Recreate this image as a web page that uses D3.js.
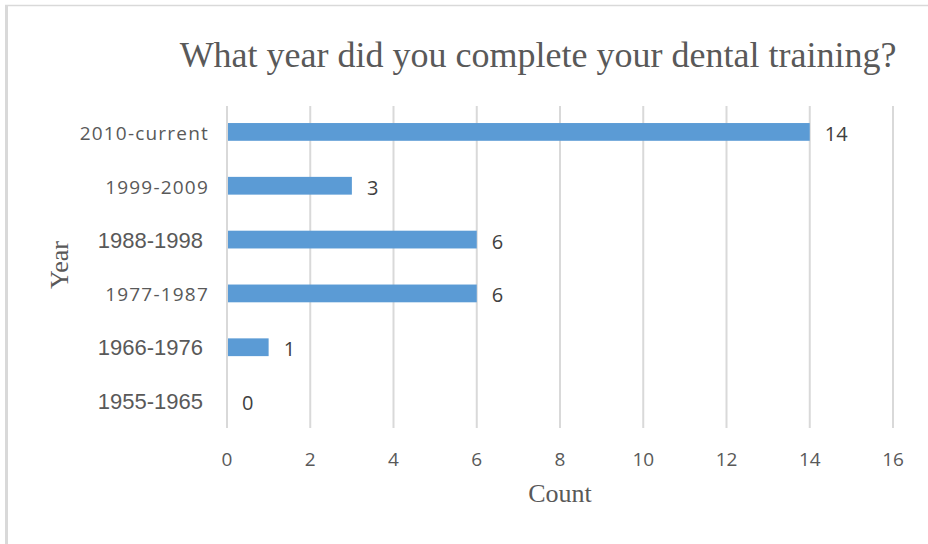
<!DOCTYPE html>
<html><head><meta charset="utf-8">
<script src="https://cdn.jsdelivr.net/npm/d3@7"></script>
<style>body{margin:0;background:#fff}</style>
</head><body>
<script>
const categories = ["2010-current","1999-2009","1988-1998","1977-1987","1966-1976","1955-1965"];
const counts = [14,3,6,6,1,0];
const xTicks = [0,2,4,6,8,10,12,14,16];
// label style per category as seen in the picture (mixed fonts)
const labelStyle = ["light","light","bold","light","bold","bold"];

const W=928,H=544;
const svg=d3.select("body").append("svg").attr("width",W).attr("height",H);
svg.append("rect").attr("width",W).attr("height",H).attr("fill","#fff");
// chart border (top + left visible)
svg.append("line").attr("x1",5).attr("x2",W).attr("y1",5.5).attr("y2",5.5).attr("stroke","#d9d9d9").attr("stroke-width",1.5);
svg.append("line").attr("x1",6.5).attr("x2",6.5).attr("y1",5).attr("y2",H).attr("stroke","#d9d9d9").attr("stroke-width",3);

const x=d3.scaleLinear().domain([0,16]).range([227,893]);
const y=d3.scaleBand().domain(categories).range([105,428]).paddingInner(0.67).paddingOuter(0.335);

const grid=svg.append("g");
grid.selectAll("line").data(xTicks).join("line")
 .attr("x1",d=>x(d)).attr("x2",d=>x(d)).attr("y1",106).attr("y2",428)
 .attr("stroke","#d9d9d9").attr("stroke-width",2);

svg.append("g").selectAll("rect").data(categories).join("rect")
 .attr("x",x(0)+1).attr("y",d=>y(d))
 .attr("width",(d,i)=>Math.max(0,x(counts[i])-x(0)-1)).attr("height",y.bandwidth())
 .attr("fill","#5b9bd5");

// value labels
svg.append("g").selectAll("text").data(categories).join("text")
 .attr("x",(d,i)=>x(counts[i])+15).attr("y",d=>y(d)+y.bandwidth()/2+9)
 .attr("font-family","Open Sans").attr("font-size",20).attr("fill","#404040")
 .text((d,i)=>counts[i]);

// x tick labels
svg.append("g").selectAll("text").data(xTicks).join("text")
 .attr("x",d=>x(d)).attr("y",466).attr("text-anchor","middle")
 .attr("font-family","Open Sans").attr("font-size",19).attr("fill","#595959")
 .text(d=>d);

// category labels
svg.append("g").selectAll("text").data(categories).join("text")
 .attr("x",(d,i)=>labelStyle[i]==="light"?209:203)
 .attr("y",(d,i)=>y(d)+y.bandwidth()/2+8)
 .attr("text-anchor","end")
 .attr("font-family",(d,i)=>labelStyle[i]==="light"?"Open Sans":"Liberation Sans")
 .attr("font-size",(d,i)=>labelStyle[i]==="light"?19:22)
 .attr("letter-spacing",(d,i)=>labelStyle[i]==="light"?1.2:0)
 .attr("fill","#595959")
 .text(d=>d);

svg.append("text").attr("x",538).attr("y",67).attr("text-anchor","middle")
 .attr("font-family","Liberation Serif").attr("font-size",36).attr("fill","#595959")
 .text("What year did you complete your dental training?");
svg.append("text").attr("x",560).attr("y",502).attr("text-anchor","middle")
 .attr("font-family","Liberation Serif").attr("font-size",26).attr("fill","#595959").text("Count");
svg.append("text").attr("transform","translate(68,265) rotate(-90)").attr("text-anchor","middle")
 .attr("font-family","Liberation Serif").attr("font-size",26).attr("fill","#595959").text("Year");
</script>
</body></html>
